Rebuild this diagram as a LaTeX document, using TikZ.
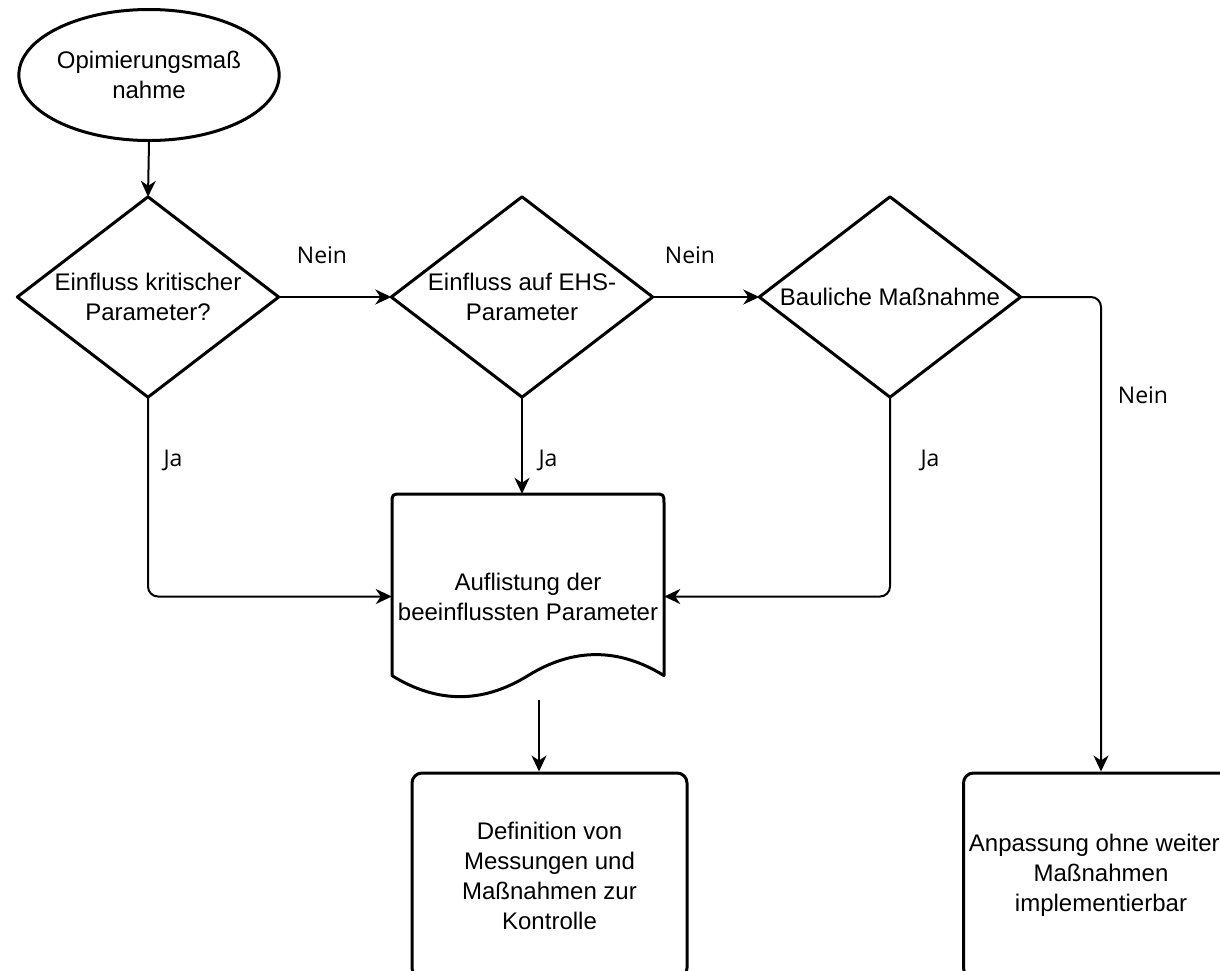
\documentclass[tikz,border=0pt]{standalone}
\usepackage{fontspec}
\setmainfont{Liberation Sans}
\newfontfamily\labfont{Open Sans}
\usetikzlibrary{arrows.meta,shapes.geometric}
\begin{document}
\begin{tikzpicture}[x=1pt,y=-1pt,
  every node/.style={font=\fontsize{24}{30}\selectfont, align=center, inner sep=0pt},
  shp/.style={line width=3pt, line join=round},
  conn/.style={line width=2pt, rounded corners=10pt},
  arr/.style={conn, -{Stealth[length=16pt,width=15pt,inset=5pt]}},
  lbl/.style={font=\labfont\fontsize{23}{30}\selectfont},
  diam/.style={minimum width=261pt, minimum height=200pt},
  box/.style={draw, shp, rounded corners=10pt, minimum width=275pt, minimum height=205pt}
]
\useasboundingbox (0,0) rectangle (1220,970);
\fill[white] (0,0) rectangle (1220,970);
\clip (0,0) rectangle (1220,970);

\node[draw, shp, ellipse, minimum width=202pt, minimum height=131pt] (start) at (149,75) {Opimierungsmaß\\nahme};

\node[diam] (d1) at (148,297) {Einfluss kritischer\\Parameter?};
\draw[shp] (d1.north) -- (d1.east) -- (d1.south) -- (d1.west) -- cycle;
\node[diam] (d2) at (522,297) {Einfluss auf EHS-\\Parameter};
\draw[shp] (d2.north) -- (d2.east) -- (d2.south) -- (d2.west) -- cycle;
\node[diam] (d3) at (890,297) {Bauliche Maßnahme};
\draw[shp] (d3.north) -- (d3.east) -- (d3.south) -- (d3.west) -- cycle;

\node[minimum width=272pt, minimum height=205pt] (doc) at (528,596.5) {Auflistung der\\beeinflussten Parameter};
\draw[shp] (392,675.6) -- (392,504) .. controls (392,494) .. (402,494) -- (654,494)
  .. controls (664,494) .. (664,504) -- (664,675.6)
  .. controls (618.67,647.6) and (573.33,647.6) .. (528,675.6)
  .. controls (482.67,703.67) and (437.33,703.67) .. (392,675.6) -- cycle;

\node[box] (box2) at (549.5,875.5) {Definition von\\Messungen und\\Maßnahmen zur\\Kontrolle};
\node[box] (box3) at (1101,875.5) {Anpassung ohne weitere\\Maßnahmen\\implementierbar};

\draw[arr] (start.south) -- (d1.north);
\draw[arr] (d1.east) -- (d2.west);
\draw[arr] (d2.east) -- (d3.west);
\draw[arr] (d3.east) -| (box3.north);
\draw[arr] (d1.south) |- (doc.west);
\draw[arr] (d2.south) -- (d2.south |- doc.north);
\draw[arr] (d3.south) |- (doc.east);
\coordinate (dout) at (539,700);
\draw[arr] (dout) -- (dout |- box2.north);

\node[lbl] (n1) at (322,255) {Nein};
\node[lbl] (n2) at (690,255) {Nein};
\node[lbl] (n3) at (1143,395) {Nein};
\node[lbl] (j1) at (173,460) {Ja};
\node[lbl] (j2) at (548,460) {Ja};
\node[lbl] (j3) at (930,460) {Ja};
\end{tikzpicture}
\end{document}
